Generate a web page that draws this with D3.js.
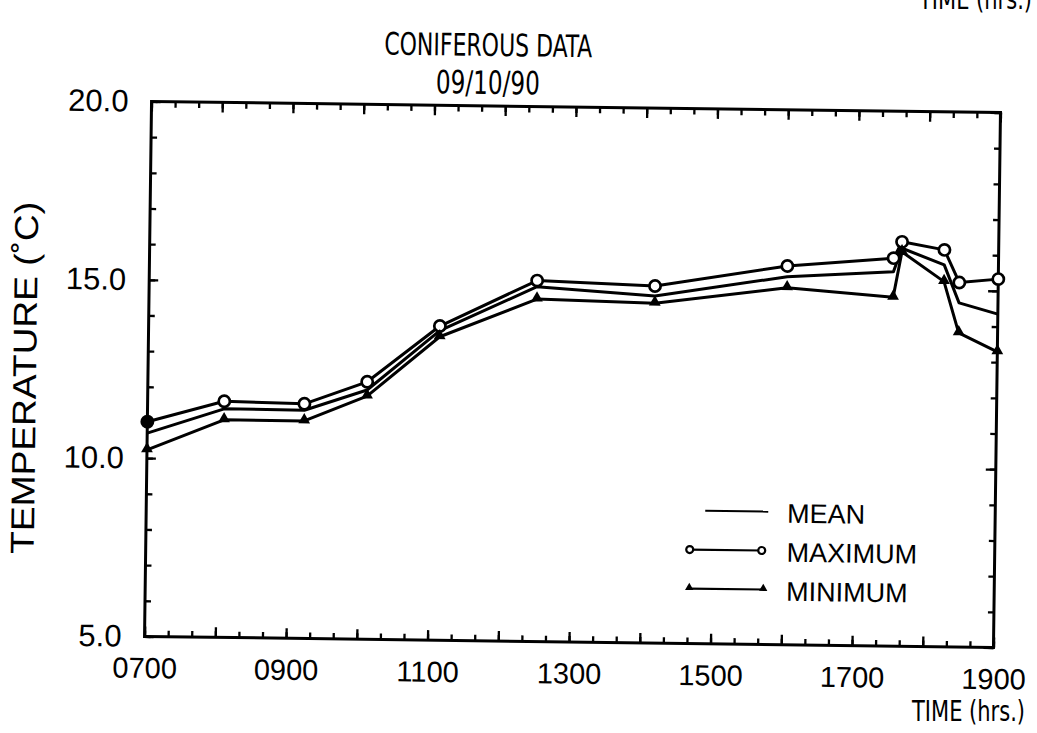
<!DOCTYPE html>
<html><head><meta charset="utf-8">
<script src="https://cdn.jsdelivr.net/npm/d3@7"></script>
<style>body{margin:0;background:#fff}svg{display:block}</style>
</head><body>
<svg id="c" width="1037" height="733"></svg>
<script>
// ---- data ----
const times    = ["0700","0805","0913","1006","1107","1229","1409","1601","1731","1738","1814","1827","1900"];
const maxTemp  = [11.02, 11.62, 11.58, 12.22, 13.81, 15.12, 15.01, 15.62, 15.88, 16.34, 16.13, 15.22, 15.33];
const meanTemp = [10.70, 11.41, 11.40, 11.99, 13.68, 14.95, 14.73, 15.32, 15.50, 16.16, 15.71, 14.65, 14.35];
const minTemp  = [10.23, 11.10, 11.10, 11.82, 13.51, 14.60, 14.53, 15.01, 14.78, 16.06, 15.24, 13.81, 13.29];
const xTickLabels = ["0700","0900","1100","1300","1500","1700","1900"];
const yTickLabels = ["5.0","10.0","15.0","20.0"];
const titleLines = ["CONIFEROUS DATA","09/10/90"];
const xTitle = "TIME (hrs.)";
const yTitle = "TEMPERATURE (\u02DAC)";
const legendLabels = ["MEAN","MAXIMUM","MINIMUM"];

// ---- layout ----
const m = {left:148, right:997, top:107, bottom:642};
const toHours = s => +s.slice(0,2) + (+s.slice(2))/60;
const x = d3.scaleLinear().domain([7,19]).range([m.left,m.right]);
const y = d3.scaleLinear().domain([5,20]).range([m.bottom,m.top]);
const narrow = "'Liberation Sans Narrow','Arial Narrow','DejaVu Sans Condensed',sans-serif";
const regular = "'Liberation Sans',Arial,Helvetica,sans-serif";

const svg = d3.select("#c");
// the scanned original is turned slightly clockwise
const g = svg.append("g").attr("transform","rotate(0.75 573 375)");

// titles
g.append("text").attr("x",484).attr("y",57).attr("text-anchor","middle")
 .attr("font-family",narrow).attr("font-size",31)
 .attr("textLength",208).attr("lengthAdjust","spacingAndGlyphs").text(titleLines[0]);
g.append("text").attr("x",484).attr("y",95).attr("text-anchor","middle")
 .attr("font-family",narrow).attr("font-size",32)
 .attr("textLength",104).attr("lengthAdjust","spacingAndGlyphs").text(titleLines[1]);
// repeat of the x title cut by the top edge, as in the scan
svg.append("text").attr("x",1032).attr("y",9).attr("text-anchor","end")
 .attr("font-family",narrow).attr("font-size",29)
 .attr("textLength",113).attr("lengthAdjust","spacingAndGlyphs").text(xTitle);

// ---- ticks ----
const minorX = d3.range(7, 19.0001, 1/3);
const majorX = d3.range(7, 19.0001, 1);
const minorY = d3.range(5, 20.0001, 1);
const majorY = [5,10,15,20];
function tickAxis(axis, vals, size){
  return axis.tickValues(vals).tickSizeInner(size).tickSizeOuter(0).tickFormat("");
}
const ax = [];
ax.push(g.append("g").attr("transform",`translate(0,${m.bottom})`).call(tickAxis(d3.axisBottom(x), minorX, -6)));
ax.push(g.append("g").attr("transform",`translate(0,${m.bottom})`).call(tickAxis(d3.axisBottom(x), majorX, -10)));
ax.push(g.append("g").attr("transform",`translate(0,${m.top})`).call(tickAxis(d3.axisTop(x), minorX, -6)));
ax.push(g.append("g").attr("transform",`translate(0,${m.top})`).call(tickAxis(d3.axisTop(x), majorX, -10)));
ax.push(g.append("g").attr("transform",`translate(${m.left},0)`).call(tickAxis(d3.axisLeft(y), minorY, -6)));
ax.push(g.append("g").attr("transform",`translate(${m.left},0)`).call(tickAxis(d3.axisLeft(y), majorY, -9)));
ax.push(g.append("g").attr("transform",`translate(${m.right},0)`).call(tickAxis(d3.axisRight(y), minorY, -6)));
ax.push(g.append("g").attr("transform",`translate(${m.right},0)`).call(tickAxis(d3.axisRight(y), majorY, -10)));
ax.forEach(a => { a.select(".domain").remove(); a.selectAll("line").attr("stroke","#000").attr("stroke-width",2.3); });

// frame
g.append("rect").attr("x",m.left).attr("y",m.top).attr("width",m.right-m.left).attr("height",m.bottom-m.top)
 .attr("fill","none").attr("stroke","#000").attr("stroke-width",3);

// tick labels
const xl = g.append("g").attr("transform",`translate(0,${m.bottom})`)
 .call(d3.axisBottom(x).tickValues(xTickLabels.map(toHours)).tickFormat((d,i)=>xTickLabels[i]).tickSize(0).tickPadding(21));
xl.select(".domain").remove();
xl.selectAll("text").attr("font-family",regular).attr("font-size",29).attr("fill","#000");
const yl = g.append("g").attr("transform",`translate(${m.left},0)`)
 .call(d3.axisLeft(y).tickValues(yTickLabels.map(Number)).tickFormat((d,i)=>yTickLabels[i]).tickSize(0).tickPadding(23));
yl.select(".domain").remove();
yl.selectAll("text").attr("font-family",regular).attr("font-size",31).attr("fill","#000");

// axis titles
svg.append("text").attr("x",1025).attr("y",721).attr("text-anchor","end")
 .attr("font-family",narrow).attr("font-size",29)
 .attr("textLength",113).attr("lengthAdjust","spacingAndGlyphs").text(xTitle);
g.append("text").attr("transform","translate(36,385) rotate(-90)").attr("text-anchor","middle")
 .attr("font-family",regular).attr("font-size",33)
 .attr("textLength",352).attr("lengthAdjust","spacingAndGlyphs").text(yTitle);

// ---- series ----
const hrs = times.map(toHours);
const line = d3.line().x((d,i)=>x(hrs[i])).y(d=>y(d));
[meanTemp, maxTemp, minTemp].forEach(s => {
  g.append("path").datum(s).attr("d",line).attr("fill","none")
   .attr("stroke","#000").attr("stroke-width",3).attr("stroke-linejoin","round");
});
g.selectAll(".maxpt").data(maxTemp).join("circle").attr("class","maxpt")
 .attr("cx",(d,i)=>x(hrs[i])).attr("cy",d=>y(d)).attr("r",5.6)
 .attr("fill",(d,i)=> i===0 ? "#000" : "#fff").attr("stroke","#000").attr("stroke-width",2.7);
const tri = d3.symbol(d3.symbolTriangle).size(60);
g.selectAll(".minpt").data(minTemp).join("path").attr("class","minpt")
 .attr("d",tri).attr("transform",(d,i)=>`translate(${x(hrs[i])},${y(d)-1})`)
 .attr("fill","#000");

// ---- legend ----
const lg = g.append("g");
const rows = [509, 548, 587];
lg.append("line").attr("x1",707).attr("x2",770).attr("y1",rows[0]).attr("y2",rows[0]).attr("stroke","#000").attr("stroke-width",2.2);
lg.append("line").attr("x1",692).attr("x2",764).attr("y1",rows[1]).attr("y2",rows[1]).attr("stroke","#000").attr("stroke-width",2.2);
lg.append("line").attr("x1",692).attr("x2",766).attr("y1",rows[2]).attr("y2",rows[2]).attr("stroke","#000").attr("stroke-width",2.2);
[692,764].forEach(cx => lg.append("circle").attr("cx",cx).attr("cy",rows[1]).attr("r",3.5)
  .attr("fill","#fff").attr("stroke","#000").attr("stroke-width",2.2));
[692,766].forEach(cx => lg.append("path").attr("d",d3.symbol(d3.symbolTriangle).size(30))
  .attr("transform",`translate(${cx},${rows[2]-1})`).attr("fill","#000"));
legendLabels.forEach((t,i) => lg.append("text").attr("x",789).attr("y",rows[i]+11)
  .attr("font-family",regular).attr("font-size",27).text(t));
</script>
</body></html>
